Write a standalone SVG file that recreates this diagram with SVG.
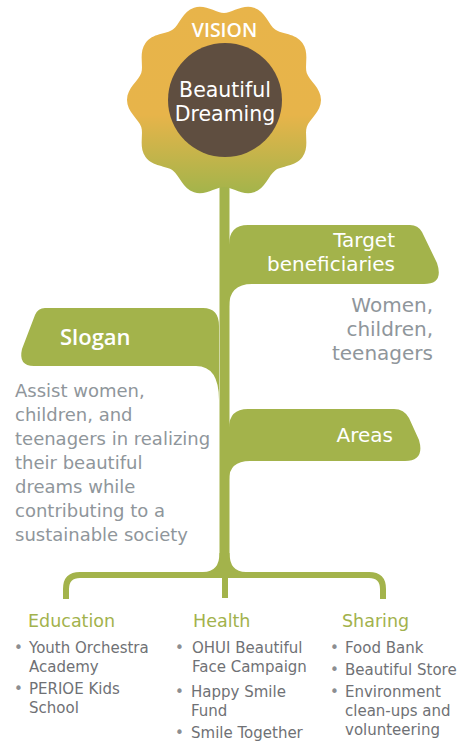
<svg xmlns="http://www.w3.org/2000/svg" width="470" height="744" viewBox="0 0 470 744">
  <defs>
    <linearGradient id="petalFill" gradientUnits="userSpaceOnUse" x1="0" y1="0" x2="0" y2="198">
      <stop offset="0" stop-color="#E8B44A"/>
      <stop offset="0.58" stop-color="#E7B44A"/>
      <stop offset="1" stop-color="#9FB44B"/>
    </linearGradient>
    <style>
      .green { fill: #A3B34B; }
      .line { fill: none; stroke: #A3B34B; stroke-width: 6; }
      .tech { font-family: "DejaVu Sans", "Liberation Sans", sans-serif; }
      .human { font-family: "Open Sans", "Noto Sans", sans-serif; }
      .wlabel { fill: #FFFFFF; font-size: 20px; }
      .grey { fill: #8F969B; font-family: "DejaVu Sans", "Liberation Sans", sans-serif; }
      .cat { fill: #A2B24C; font-size: 17.5px; }
      .item { fill: #6F7175; font-family: "DejaVu Sans", "Liberation Sans", sans-serif; font-size: 15px; }
      .dot { fill: #8C8E91; }
    </style>
  </defs>

  <!-- stem, bracket and branch joints -->
  <g id="connectors">
    <rect class="green" x="219.5" y="185" width="10" height="391"/>
    <path class="green" d="M219.5 553 Q219.5 572 203 572 L246 572 Q229.5 572 229.5 553 Z"/>
    <path class="line" d="M66 599 L66 589 Q66 575 80 575 L369 575 Q383 575 383 589 L383 599"/>
    <line class="line" x1="225" y1="575" x2="225" y2="598"/>
  </g>

  <!-- flower head -->
  <g id="vision">
    <path fill="url(#petalFill)" d="M224 13
      C232 13 242.56 4.03 253.97 7.74
      C265.38 11.45 268.67 24.92 275.14 29.62
      C281.61 34.32 295.42 33.27 302.47 42.98
      C309.52 52.69 304.28 65.51 306.75 73.12
      C309.22 80.73 321 88 321 100
      C321 112 309.22 119.27 306.75 126.88
      C304.28 134.49 309.52 147.31 302.47 157.02
      C295.42 166.73 281.61 165.68 275.14 170.38
      C268.67 175.08 265.38 188.55 253.97 192.26
      C242.56 195.97 232 187 224 187
      C216 187 205.44 195.97 194.03 192.26
      C182.62 188.55 179.33 175.08 172.86 170.38
      C166.39 165.68 152.58 166.73 145.53 157.02
      C138.48 147.31 143.72 134.49 141.25 126.88
      C138.78 119.27 127 112 127 100
      C127 88 138.78 80.73 141.25 73.12
      C143.72 65.51 138.48 52.69 145.53 42.98
      C152.58 33.27 166.39 34.32 172.86 29.62
      C179.33 24.92 182.62 11.45 194.03 7.74
      C205.44 4.03 216 13 224 13 Z"/>
    <circle cx="225" cy="100" r="57" fill="#5F4E40"/>
    <text class="human" x="224.5" y="37" text-anchor="middle" fill="#FFFFFF" font-size="19.5" font-weight="600">VISION</text>
    <text class="tech" x="225" y="97" text-anchor="middle" fill="#FFFFFF" font-size="20.5">Beautiful</text>
    <text class="tech" x="225" y="121" text-anchor="middle" fill="#FFFFFF" font-size="20.5">Dreaming</text>
  </g>

  <!-- target beneficiaries branch -->
  <g id="target">
    <path class="green" d="M229 245 Q229 225 248 225 L410 225 Q418 225 422 232 L437 263 Q444 284 424 284 L252 284 Q229 284 229 307 Z"/>
    <text class="tech wlabel" x="395" y="247" text-anchor="end">Target</text>
    <text class="tech wlabel" x="395" y="271" text-anchor="end">beneficiaries</text>
    <g class="grey" font-size="20" text-anchor="end">
      <text x="433" y="312">Women,</text>
      <text x="433" y="336">children,</text>
      <text x="433" y="360">teenagers</text>
    </g>
  </g>

  <!-- slogan branch -->
  <g id="slogan">
    <path class="green" d="M45 308 L203 308 Q219 308 219 326 L219 400 Q219 366 196 366 L34 366 Q18 366 22 349 L35 315 Q38 308 45 308 Z"/>
    <text class="human" x="60" y="345" fill="#FFFFFF" font-size="22" font-weight="600">Slogan</text>
    <g class="grey" font-size="18">
      <text x="15" y="397">Assist women,</text>
      <text x="15" y="421">children, and</text>
      <text x="15" y="445">teenagers in realizing</text>
      <text x="15" y="469">their beautiful</text>
      <text x="15" y="493">dreams while</text>
      <text x="15" y="517">contributing to a</text>
      <text x="15" y="541">sustainable society</text>
    </g>
  </g>

  <!-- areas branch -->
  <g id="areas">
    <path class="green" d="M229 428 Q229 409 248 409 L394 409 Q404 409 409 418 L419 440 Q425 461 405 461 L250 461 Q229 461 229 480 Z"/>
    <text class="tech wlabel" x="393" y="442" text-anchor="end">Areas</text>
  </g>

  <!-- area: education -->
  <g id="education">
    <text class="tech cat" x="28" y="627">Education</text>
    <g class="item">
      <text class="dot" x="14" y="653">•</text>
      <text x="29" y="653">Youth Orchestra</text>
      <text x="29" y="672">Academy</text>
      <text class="dot" x="14" y="694">•</text>
      <text x="29" y="694">PERIOE Kids</text>
      <text x="29" y="713">School</text>
    </g>
  </g>

  <!-- area: health -->
  <g id="health">
    <text class="tech cat" x="193" y="627">Health</text>
    <g class="item">
      <text class="dot" x="175" y="653">•</text>
      <text x="192" y="653">OHUI Beautiful</text>
      <text x="192" y="672">Face Campaign</text>
      <text class="dot" x="175" y="697">•</text>
      <text x="191" y="697">Happy Smile</text>
      <text x="191" y="716">Fund</text>
      <text class="dot" x="175" y="738">•</text>
      <text x="191" y="738">Smile Together</text>
    </g>
  </g>

  <!-- area: sharing -->
  <g id="sharing">
    <text class="tech cat" x="342" y="627">Sharing</text>
    <g class="item">
      <text class="dot" x="330" y="653">•</text>
      <text x="345" y="653">Food Bank</text>
      <text class="dot" x="330" y="675">•</text>
      <text x="345" y="675">Beautiful Store</text>
      <text class="dot" x="330" y="697">•</text>
      <text x="345" y="697">Environment</text>
      <text x="345" y="716">clean-ups and</text>
      <text x="345" y="735">volunteering</text>
    </g>
  </g>
</svg>
